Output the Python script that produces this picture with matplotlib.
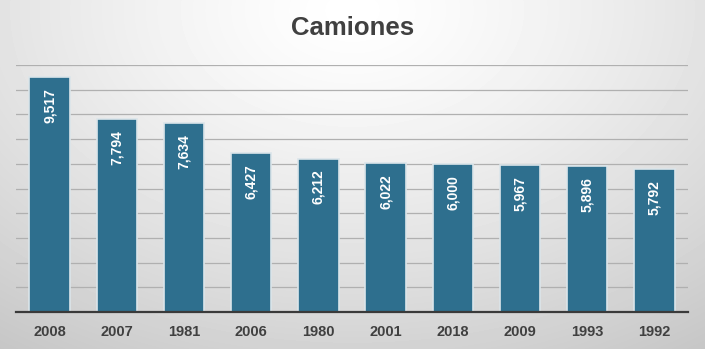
import numpy as np
import matplotlib.pyplot as plt

years = ["2008", "2007", "1981", "2006", "1980", "2001", "2018", "2009", "1993", "1992"]
trucks = [9517, 7794, 7634, 6427, 6212, 6022, 6000, 5967, 5896, 5792]

plt.rcParams["font.family"] = ["Liberation Sans", "DejaVu Sans"]

fig = plt.figure(figsize=(7.05, 3.49), dpi=100)

# soft radial background
bg = fig.add_axes([0, 0, 1, 1], zorder=-10)
yy, xx = np.mgrid[0:349, 0:705]
r = np.sqrt(((xx - 352) / 560.0) ** 2 + ((yy - 10) / 380.0) ** 2)
shade = np.clip(1.0 - 0.2 * r ** 1.3, 0.76, 1.0)
bg.imshow(shade, cmap="gray", vmin=0, vmax=1, aspect="auto", interpolation="bilinear")
bg.axis("off")

ax = fig.add_axes([16 / 705, 1 - 312 / 349, 672 / 705, 247 / 349])
ax.set_facecolor("none")
x = np.arange(len(years))
bars = ax.bar(x, trucks, width=0.6, color="#2e6f8e", edgecolor="#dbe5ea",
              linewidth=1.2, zorder=3)

for rect, v in zip(bars, trucks):
    ax.annotate(f"{v:,}", (rect.get_x() + rect.get_width() / 2, v),
                xytext=(0, -8), textcoords="offset points",
                rotation=90, ha="center", va="top", color="white",
                fontsize=10, fontweight="bold", zorder=4)

ax.set_xlim(-0.5, len(years) - 0.5)
ax.set_ylim(0, 10000)
ax.set_yticks(np.arange(0, 10001, 1000))
ax.yaxis.grid(True, color="#b0b0b0", linewidth=0.9, zorder=0)
ax.tick_params(axis="y", left=False, labelleft=False)
ax.tick_params(axis="x", length=0, pad=9)
ax.set_xticks(x)
ax.set_xticklabels(years, fontsize=10.5, fontweight="bold", color="#404040")
for side in ("top", "right", "left"):
    ax.spines[side].set_visible(False)
ax.spines["bottom"].set_color("#3a3a3a")
ax.spines["bottom"].set_linewidth(1.6)
ax.spines["bottom"].set_zorder(5)

fig.text(0.5, 1 - 28 / 349, "Camiones", ha="center", va="center",
         fontsize=18.5, fontweight="bold", color="#404040")

fig.savefig("out.png", dpi=100)
